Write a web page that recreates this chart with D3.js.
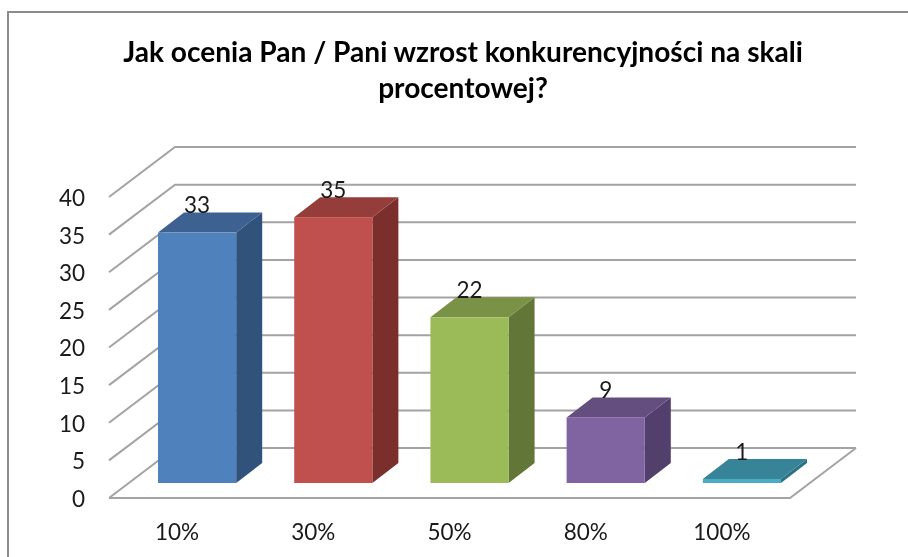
<!DOCTYPE html>
<html>
<head>
<meta charset="utf-8">
<script src="https://cdn.jsdelivr.net/npm/d3@7"></script>
<style>
  html, body { margin: 0; padding: 0; background: #fff; }
  svg { display: block; filter: blur(0.5px); }
  text { font-family: Lato, "Open Sans", sans-serif; fill: #1a1a1a; }
  .title { font-size: 28.1px; font-weight: 700; fill: #000; }
  .tick-label { font-size: 22.5px; }
  .grid { stroke: #a3a3a3; stroke-width: 2; fill: none; }
</style>
</head>
<body>
<script>
const categories = ['10%', '30%', '50%', '80%', '100%']
const values = [33, 35, 22, 9, 1]
const axisTicks = [0, 5, 10, 15, 20, 25, 30, 35, 40]
const titleLines = ['Jak ocenia Pan / Pani wzrost konkurencyjności na skali', 'procentowej?']
const frontColors = ['#4f81bd', '#c0504d', '#9bbb59', '#8064a2', '#4bacc6']
const topColors = ['#3d6291', '#953d3b', '#7a9245', '#644e80', '#378397']
const sideColors = ['#31527a', '#7a2f2d', '#627637', '#533f6b', '#2c7286']

function main () {
  let width = 908
  let height = 557
  let depth = {x: 66, y: 50}
  let barDepth = {x: 26, y: 20}
  let floorRight = 790
  let floorLeft = 109
  let barBase = 483

  let svg = d3.select('body').append('svg')
    .attr('width', width)
    .attr('height', height)

  svg.append('path')
    .attr('d', `M8,${height} V12 H${width}`)
    .attr('fill', 'none')
    .attr('stroke', '#8c8c8c')
    .attr('stroke-width', 2)

  svg.selectAll('.title').data(titleLines).enter()
    .append('text')
    .attr('class', 'title')
    .attr('x', 463)
    .attr('y', (d, i) => 62 + i * 36)
    .attr('text-anchor', 'middle')
    .text(d => d)

  let x = d3.scaleBand().domain(categories).range([floorLeft, floorRight])
  let yFront = d3.scaleLinear().domain([0, 40]).range([498, 197])
  let yBar = d3.scaleLinear().domain([0, 40]).range([486.7, 178.7])
  let barWidth = x.step() * 0.574

  // walls and floor
  let grid = svg.append('g')
  grid.selectAll('path').data(axisTicks).enter()
    .append('path')
    .attr('class', 'grid')
    .attr('d', d => {
      let y = yFront(d)
      return `M${floorLeft},${y} L${floorLeft + depth.x},${y - depth.y} H${floorRight + depth.x}`
    })
  grid.append('path')
    .attr('class', 'grid')
    .attr('d', `M${floorLeft},${yFront(0)} H${floorRight} L${floorRight + depth.x},${yFront(0) - depth.y}`)

  svg.selectAll('.y-label').data(axisTicks).enter()
    .append('text')
    .attr('class', 'tick-label y-label')
    .attr('x', 85)
    .attr('y', d => yFront(d) + 1)
    .attr('dy', '0.35em')
    .attr('text-anchor', 'end')
    .text(d => d)

  svg.selectAll('.x-label').data(categories).enter()
    .append('text')
    .attr('class', 'tick-label x-label')
    .attr('x', d => x(d) + x.bandwidth() / 2)
    .attr('y', 532)
    .attr('dy', '0.35em')
    .attr('text-anchor', 'middle')
    .text(d => d)

  // bars sit 20px right of the band centre, set back on the floor
  let bars = svg.selectAll('.bar').data(values).enter()
    .append('g')
    .attr('class', 'bar')
  let barLeft = (d, i) => x(categories[i]) + x.bandwidth() / 2 + 20 - barWidth / 2

  bars.append('path')
    .attr('fill', (d, i) => sideColors[i])
    .attr('d', (d, i) => {
      let r = barLeft(d, i) + barWidth
      let t = yBar(d)
      return `M${r},${t} l${barDepth.x},${-barDepth.y} V${barBase - barDepth.y} L${r},${barBase} Z`
    })
  bars.append('path')
    .attr('fill', (d, i) => topColors[i])
    .attr('d', (d, i) => {
      let l = barLeft(d, i)
      let t = yBar(d)
      return `M${l},${t} l${barDepth.x},${-barDepth.y} h${barWidth} l${-barDepth.x},${barDepth.y} Z`
    })
  bars.append('rect')
    .attr('fill', (d, i) => frontColors[i])
    .attr('x', barLeft)
    .attr('y', d => yBar(d))
    .attr('width', barWidth)
    .attr('height', d => barBase - yBar(d))

  bars.append('text')
    .attr('class', 'tick-label')
    .attr('x', (d, i) => barLeft(d, i) + barWidth / 2)
    .attr('y', d => yBar(d) - 27)
    .attr('dy', '0.35em')
    .attr('text-anchor', 'middle')
    .text(d => d)
}

main()
</script>
</body>
</html>
